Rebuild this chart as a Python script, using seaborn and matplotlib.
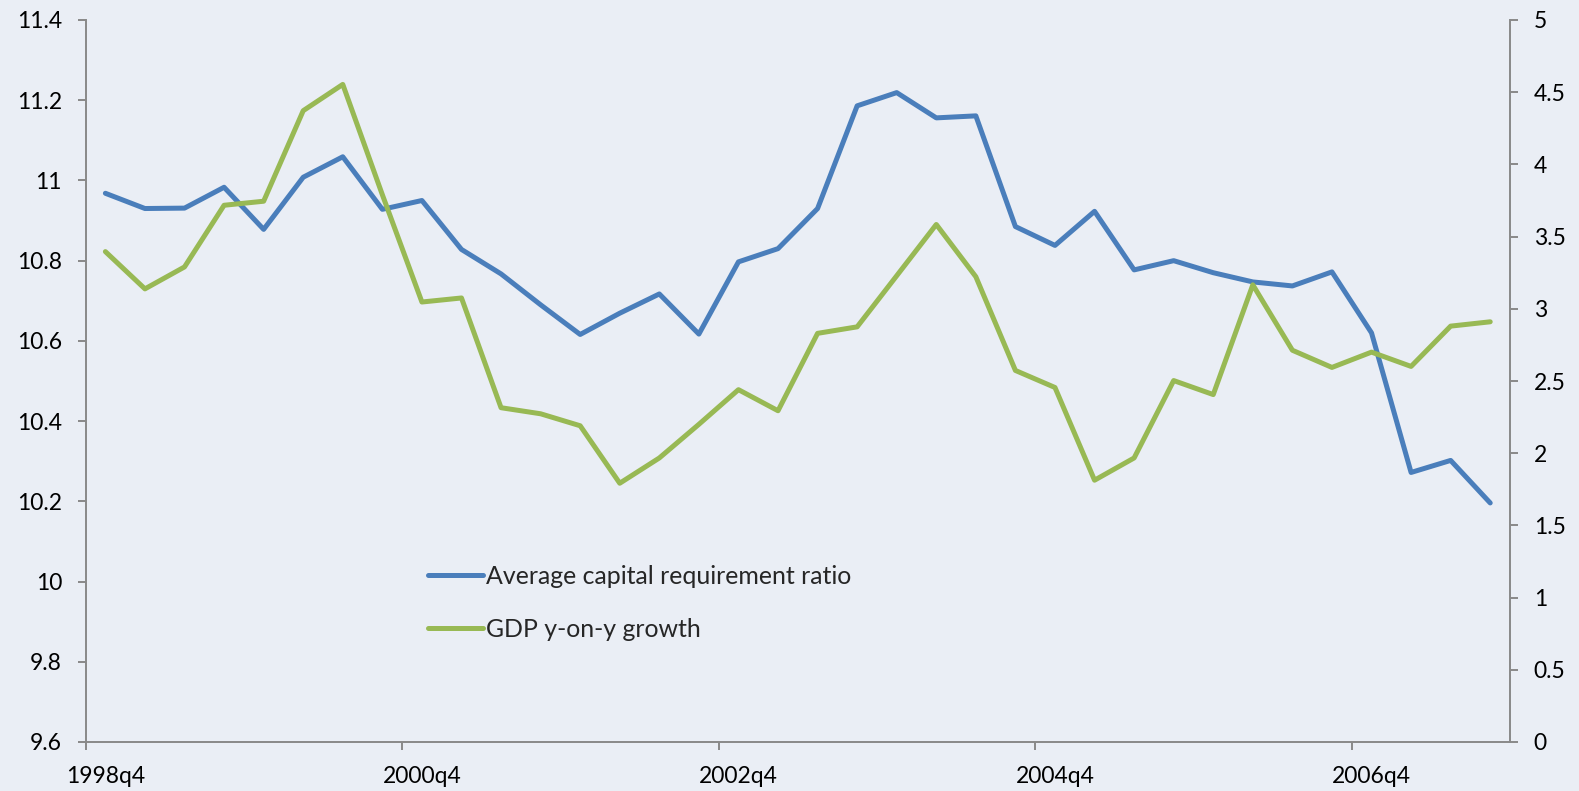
import matplotlib
matplotlib.use("Agg")
import matplotlib.pyplot as plt
import numpy as np
import pandas as pd
import seaborn as sns

quarters = [
    "1998q4", "1999q1", "1999q2", "1999q3", "1999q4", "2000q1", "2000q2", "2000q3",
    "2000q4", "2001q1", "2001q2", "2001q3", "2001q4", "2002q1", "2002q2", "2002q3",
    "2002q4", "2003q1", "2003q2", "2003q3", "2003q4", "2004q1", "2004q2", "2004q3",
    "2004q4", "2005q1", "2005q2", "2005q3", "2005q4", "2006q1", "2006q2", "2006q3",
    "2006q4", "2007q1", "2007q2", "2007q3",
]
capital_ratio = [
    10.968, 10.930, 10.931, 10.983, 10.878, 11.008, 11.059, 10.928,
    10.950, 10.828, 10.767, 10.690, 10.616, 10.669, 10.717, 10.617,
    10.797, 10.830, 10.930, 11.186, 11.219, 11.156, 11.161, 10.885,
    10.838, 10.923, 10.777, 10.800, 10.770, 10.747, 10.737, 10.772,
    10.620, 10.272, 10.302, 10.196,
]
gdp_growth = [
    3.396, 3.138, 3.290, 3.717, 3.745, 4.372, 4.554, 3.790,
    3.047, 3.075, 2.315, 2.273, 2.190, 1.792, 1.967, 2.200,
    2.440, 2.294, 2.830, 2.875, 3.229, 3.584, 3.222, 2.573,
    2.455, 1.813, 1.967, 2.503, 2.406, 3.166, 2.713, 2.594,
    2.700, 2.601, 2.880, 2.910,
]
tick_labels = ["1998q4", "2000q4", "2002q4", "2004q4", "2006q4"]
series_names = ["Average capital requirement ratio", "GDP y-on-y growth"]

df = pd.DataFrame({"quarter": quarters, "ratio": capital_ratio, "gdp": gdp_growth})

sns.set_style("white")
plt.rcParams["font.family"] = ["Lato", "DejaVu Sans"]

bg = "#EAEEF5"
grey = "#898989"
blue = "#4A7EBB"
green = "#98B954"
tick_fs = 16.5

fig = plt.figure(figsize=(15.79, 7.91), dpi=100, facecolor=bg)
ax = fig.add_axes([85.6 / 1579, 1 - 742 / 791, (1510 - 85.6) / 1579, (742 - 20) / 791])
ax.set_facecolor(bg)

sns.lineplot(data=df, x="quarter", y="ratio", ax=ax, color=blue, lw=3.6,
             label=series_names[0], sort=False, legend=False)
ax2 = ax.twinx()
sns.lineplot(data=df, x="quarter", y="gdp", ax=ax2, color=green, lw=3.6,
             label=series_names[1], sort=False, legend=False)
ax2.set_facecolor("none")

n = len(quarters)
ax.set_xlim(-0.5, n - 0.5)
label_idx = [quarters.index(t) for t in tick_labels]
ax.set_xticks(label_idx)
ax.set_xticklabels(tick_labels)
ax.set_xticks([i - 0.5 for i in label_idx], minor=True)

yl = np.round(np.arange(9.6, 11.41, 0.2), 1)
ax.set_ylim(9.6, 11.4)
ax.set_yticks(yl)
ax.set_yticklabels([f"{v:g}" for v in yl])
yr = np.arange(0, 5.01, 0.5)
ax2.set_ylim(0, 5)
ax2.set_yticks(yr)
ax2.set_yticklabels([f"{v:g}" for v in yr])

ax.set_xlabel("")
ax.set_ylabel("")
ax2.set_ylabel("")

for a in (ax, ax2):
    for s in a.spines.values():
        s.set_visible(False)
for side in ("left", "bottom"):
    ax.spines[side].set_visible(True)
    ax.spines[side].set_color(grey)
    ax.spines[side].set_linewidth(1.4)
ax2.spines["right"].set_visible(True)
ax2.spines["right"].set_color(grey)
ax2.spines["right"].set_linewidth(1.4)

ax.tick_params(axis="y", direction="out", length=6, width=1.4, color=grey,
               labelsize=tick_fs, pad=11, left=True, labelcolor="black")
ax.tick_params(axis="x", which="major", direction="out", length=0,
               labelsize=tick_fs, pad=17.5, bottom=True, labelcolor="black")
ax.tick_params(axis="x", which="minor", direction="out", length=6, width=1.4,
               color=grey, bottom=True)
ax2.tick_params(axis="y", direction="out", length=6, width=1.4, color=grey,
                labelsize=tick_fs, pad=11, right=True, labelcolor="black")

h1, l1 = ax.get_legend_handles_labels()
h2, l2 = ax2.get_legend_handles_labels()
leg = fig.legend(h1 + h2, l1 + l2, loc="upper left",
                 bbox_to_anchor=(428 / 1579, 1 - 565 / 791), frameon=False,
                 fontsize=17.9, handlelength=2.2, handletextpad=0.12,
                 labelspacing=1.2, borderpad=0, borderaxespad=0)

fig.savefig("out.png", dpi=100, facecolor=bg)
